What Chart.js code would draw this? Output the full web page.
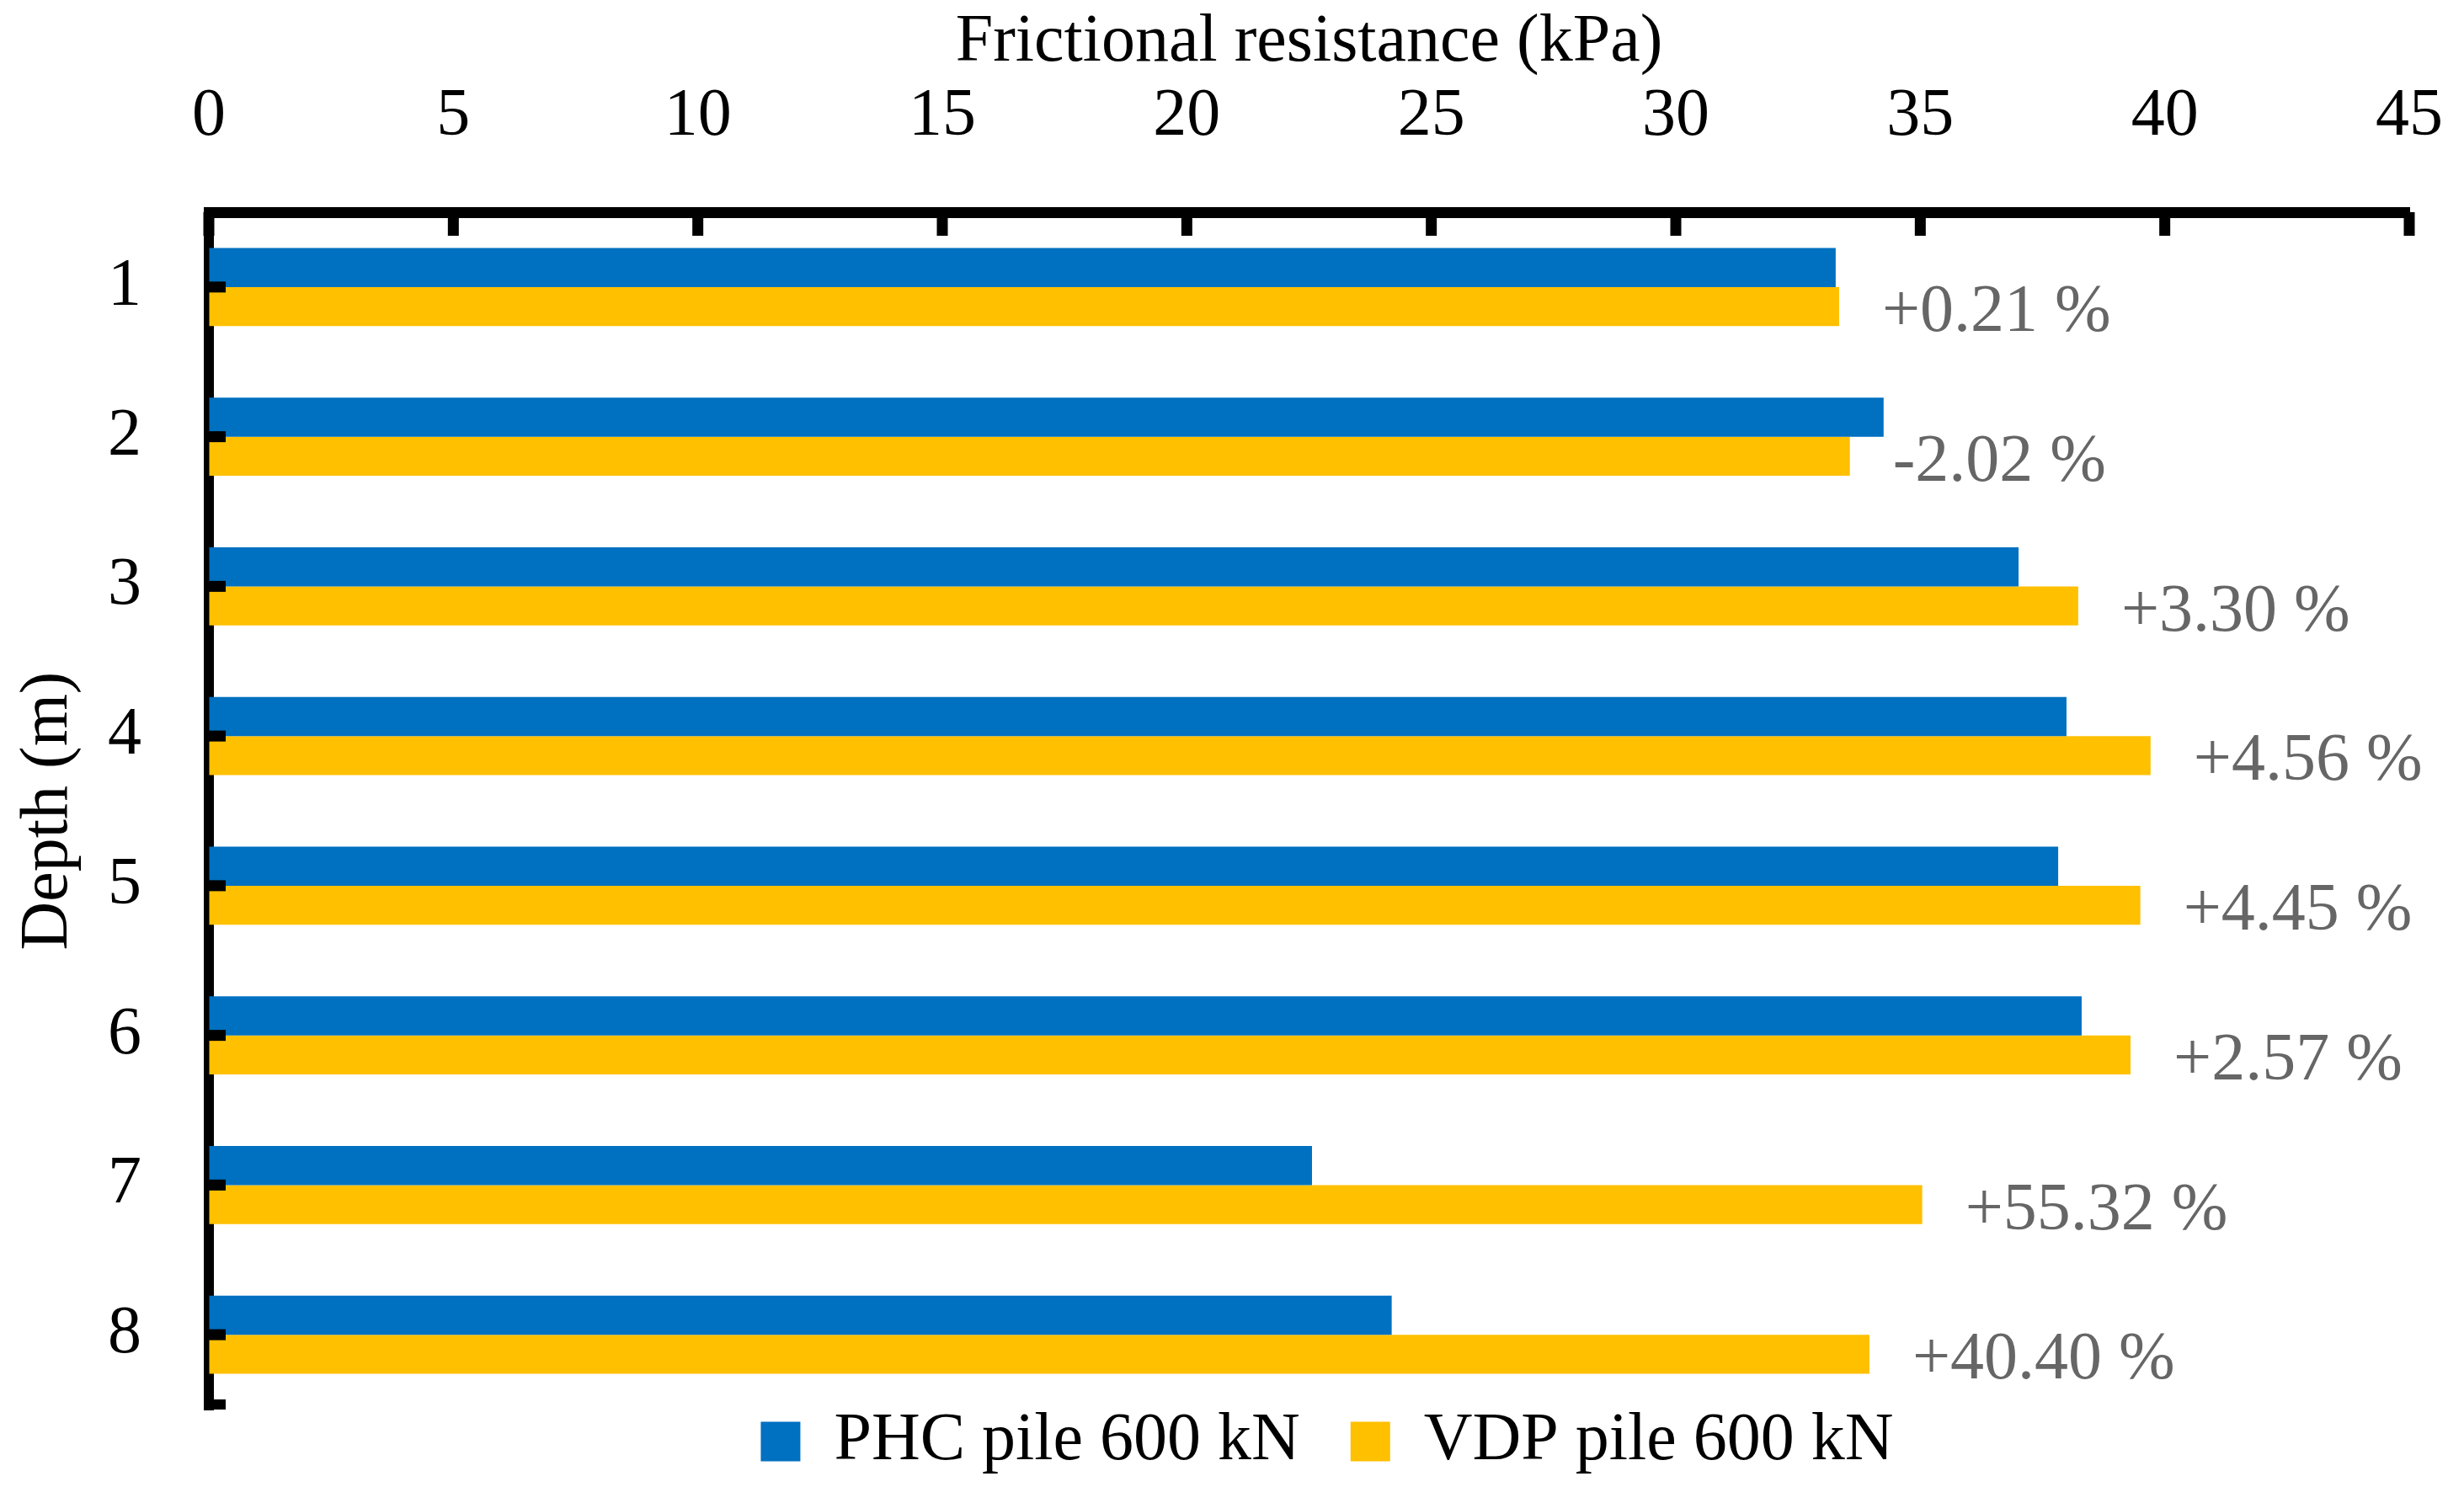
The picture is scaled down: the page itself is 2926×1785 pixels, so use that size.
<!DOCTYPE html>
<html>
<head>
<meta charset="utf-8">
<script src="https://cdn.jsdelivr.net/npm/chart.js@4.4.1/dist/chart.umd.min.js"></script>
<style>
  html, body { margin: 0; padding: 0; background: #fff; }
  canvas { display: block; }
</style>
</head>
<body>
<canvas id="myChart" width="2926" height="1785"></canvas>
<script>
  // Data
  const depths = ['1', '2', '3', '4', '5', '6', '7', '8']
  const phcValues = [33.27, 34.25, 37.01, 37.99, 37.82, 38.30, 22.56, 24.19]
  const vdpValues = [33.34, 33.56, 38.23, 39.71, 39.50, 39.30, 35.04, 33.96]
  const changeLabels = ['+0.21 %', '-2.02 %', '+3.30 %', '+4.56 %', '+4.45 %', '+2.57 %', '+55.32 %', '+40.40 %']
  const xTicks = [0, 5, 10, 15, 20, 25, 30, 35, 40, 45]

  const FONT = 'Liberation Serif'
  const SIZE = 80

  // tick marks point into the plot area, so draw them by hand
  const innerTicks = {
    id: 'innerTicks',
    afterDraw (chart) {
      const { ctx, chartArea, scales: { x, y } } = chart
      ctx.save()
      ctx.fillStyle = '#000'
      xTicks.forEach(v => {
        const px = x.getPixelForValue(v)
        ctx.fillRect(px - 6.5, chartArea.top, 13, 28)
      })
      depths.forEach((d, i) => {
        const py = y.getPixelForValue(i)
        ctx.fillRect(chartArea.left, py - 6.5, 20, 13)
      })
      ctx.fillRect(chartArea.left, chartArea.bottom - 12, 20, 12)
      ctx.restore()
    }
  }

  const changeText = {
    id: 'changeText',
    afterDatasetsDraw (chart) {
      const { ctx } = chart
      const meta = chart.getDatasetMeta(1)
      ctx.save()
      ctx.font = SIZE + 'px "' + FONT + '"'
      ctx.fillStyle = '#666666'
      ctx.textAlign = 'left'
      ctx.textBaseline = 'alphabetic'
      meta.data.forEach((bar, i) => {
        ctx.fillText(changeLabels[i], bar.x + 51, bar.y + 29)
      })
      ctx.restore()
    }
  }

  // legend sits right under the plot; grow its box upwards so the
  // label padding (used for the gap between items) doesn't push it down
  const legendSpot = {
    id: 'legendSpot',
    afterLayout (chart) {
      const lg = chart.legend
      const dx = 1576 - (lg.left + lg.right) / 2
      lg.top -= 62
      lg.height = lg.bottom - lg.top
      lg.left += dx
      lg.right += dx
    }
  }

  new Chart(document.getElementById('myChart'), {
    type: 'bar',
    data: {
      labels: depths,
      datasets: [{
        label: 'PHC pile 600 kN',
        data: phcValues,
        backgroundColor: '#0070C0'
      }, {
        label: 'VDP pile 600 kN',
        data: vdpValues,
        backgroundColor: '#FFC000'
      }]
    },
    options: {
      indexAxis: 'y',
      responsive: false,
      devicePixelRatio: 1,
      animation: false,
      layout: { padding: { left: 0, right: 65, top: 0, bottom: 0 } },
      datasets: {
        bar: { categoryPercentage: 0.523, barPercentage: 1 }
      },
      scales: {
        x: {
          position: 'top',
          min: 0,
          max: 45,
          afterFit: s => {
            s.height = 252
            s.paddingLeft = 0
            s.paddingRight = 0
          },
          afterBuildTicks: s => { s.ticks = xTicks.map(v => ({ value: v })) },
          border: { display: true, color: '#000', width: 13 },
          grid: { display: true, drawOnChartArea: false, drawTicks: false },
          ticks: {
            color: '#000',
            font: { family: FONT, size: SIZE },
            padding: 65,
            maxRotation: 0
          },
          title: {
            display: true,
            text: 'Frictional resistance (kPa)',
            color: '#000',
            font: { family: FONT, size: SIZE },
            padding: { top: 3, bottom: 0 }
          }
        },
        y: {
          afterFit: s => {
            s.width = 248
            s.paddingTop = 0
            s.paddingBottom = 0
          },
          border: { display: true, color: '#000', width: 12 },
          grid: { display: true, drawOnChartArea: false, drawTicks: false },
          ticks: {
            color: '#000',
            font: { family: FONT, size: SIZE },
            padding: 80
          },
          title: {
            display: true,
            text: 'Depth (m)',
            color: '#000',
            font: { family: FONT, size: SIZE },
            padding: { top: 10, bottom: 0 }
          }
        }
      },
      plugins: {
        legend: {
          position: 'bottom',
          maxHeight: 111,
          labels: {
            boxWidth: 47,
            boxHeight: 47,
            padding: 60,
            color: '#000',
            font: { family: FONT, size: SIZE }
          }
        },
        tooltip: { enabled: false }
      }
    },
    plugins: [innerTicks, changeText, legendSpot]
  })
</script>
</body>
</html>
